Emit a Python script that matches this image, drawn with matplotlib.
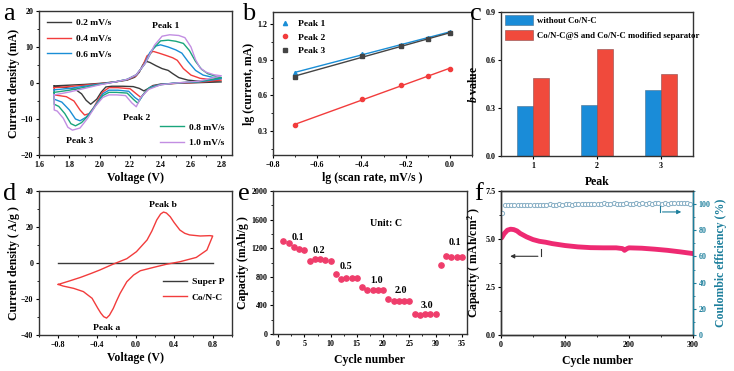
import matplotlib
matplotlib.use('Agg')
import matplotlib.pyplot as plt
import numpy as np
from matplotlib.ticker import AutoMinorLocator, MultipleLocator

plt.rcParams['font.family'] = ['Liberation Serif', 'DejaVu Serif']
plt.rcParams['font.weight'] = 'bold'
plt.rcParams['axes.labelweight'] = 'bold'
plt.rcParams['mathtext.fontset'] = 'custom'
plt.rcParams['mathtext.rm'] = 'Liberation Serif:bold'
plt.rcParams['mathtext.bf'] = 'Liberation Serif:bold'
plt.rcParams['mathtext.it'] = 'Liberation Serif:italic:bold'
plt.rcParams['axes.linewidth'] = 1.0
plt.rcParams['axes.edgecolor'] = '#333333'
plt.rcParams['xtick.labelsize'] = 5.8
plt.rcParams['ytick.labelsize'] = 5.8
plt.rcParams['xtick.major.size'] = 2.5
plt.rcParams['ytick.major.size'] = 2.5
plt.rcParams['xtick.minor.size'] = 1.5
plt.rcParams['ytick.minor.size'] = 1.5
plt.rcParams['xtick.major.pad'] = 1.8
plt.rcParams['ytick.major.pad'] = 1.5

# ---- panel a: CV curves at different scan rates (anodic then cathodic sweep)
rates = ['0.2 mV/s', '0.4 mV/s', '0.6 mV/s', '0.8 mV/s', '1.0 mV/s']
cv_colors = ['#3a3a3a', '#f23c3c', '#1a8ed6', '#1aa57c', '#c28ee2']
cv_anodic_v = [
    [1.70, 1.80, 1.90, 2.00, 2.10, 2.18, 2.23, 2.26, 2.28, 2.30, 2.33, 2.37, 2.41, 2.45, 2.48, 2.52, 2.58, 2.65, 2.80],
    [1.70, 1.80, 1.90, 2.00, 2.10, 2.18, 2.24, 2.28, 2.31, 2.35, 2.39, 2.44, 2.48, 2.51, 2.55, 2.60, 2.66, 2.72, 2.80],
    [1.70, 1.80, 1.90, 2.00, 2.10, 2.18, 2.24, 2.29, 2.33, 2.37, 2.40, 2.45, 2.50, 2.54, 2.58, 2.63, 2.68, 2.74, 2.80],
    [1.70, 1.80, 1.90, 2.00, 2.10, 2.18, 2.24, 2.30, 2.35, 2.40, 2.45, 2.50, 2.55, 2.59, 2.63, 2.67, 2.71, 2.76, 2.80],
    [1.70, 1.80, 1.90, 2.00, 2.10, 2.18, 2.24, 2.30, 2.36, 2.41, 2.46, 2.52, 2.56, 2.60, 2.63, 2.66, 2.70, 2.75, 2.80],
]
cv_anodic_i = [
    [-0.8, -0.6, -0.4, -0.1, 0.3, 0.8, 1.6, 3.0, 4.8, 6.1, 5.7, 4.8, 4.0, 3.5, 2.6, 1.5, 0.8, 0.5, 0.3],
    [-1.3, -1.0, -0.6, -0.2, 0.3, 0.9, 2.0, 4.5, 7.5, 8.8, 8.3, 7.6, 7.0, 6.3, 4.0, 2.2, 1.3, 1.0, 0.8],
    [-1.9, -1.5, -0.9, -0.3, 0.3, 1.0, 2.2, 5.0, 8.5, 10.3, 10.6, 10.0, 9.2, 8.3, 6.0, 3.5, 2.2, 1.6, 1.2],
    [-2.6, -2.0, -1.2, -0.4, 0.3, 1.0, 2.3, 5.5, 9.5, 11.7, 11.9, 11.6, 11.0, 9.0, 6.0, 3.8, 2.6, 1.9, 1.5],
    [-3.3, -2.5, -1.5, -0.5, 0.3, 1.0, 2.3, 5.5, 10.5, 13.0, 13.4, 13.2, 12.6, 10.0, 6.5, 4.2, 3.0, 2.3, 2.0],
]
cv_cathodic_v = [
    [2.80, 2.65, 2.50, 2.40, 2.35, 2.32, 2.29, 2.26, 2.22, 2.15, 2.08, 2.04, 2.01, 1.98, 1.94, 1.91, 1.88, 1.84, 1.78, 1.70, 1.70],
    [2.80, 2.65, 2.50, 2.40, 2.34, 2.30, 2.27, 2.24, 2.20, 2.12, 2.06, 2.02, 1.99, 1.96, 1.93, 1.90, 1.87, 1.83, 1.78, 1.70, 1.70],
    [2.80, 2.65, 2.50, 2.40, 2.33, 2.29, 2.26, 2.23, 2.19, 2.12, 2.06, 2.02, 1.99, 1.95, 1.91, 1.87, 1.84, 1.80, 1.75, 1.70, 1.70],
    [2.80, 2.65, 2.50, 2.40, 2.32, 2.28, 2.25, 2.22, 2.18, 2.11, 2.06, 2.02, 1.98, 1.93, 1.88, 1.84, 1.81, 1.77, 1.73, 1.70, 1.70],
    [2.80, 2.65, 2.50, 2.40, 2.32, 2.27, 2.24, 2.21, 2.17, 2.11, 2.06, 2.02, 1.97, 1.92, 1.87, 1.82, 1.79, 1.76, 1.72, 1.70, 1.70],
]
cv_cathodic_i = [
    [0.3, 0.1, -0.1, -0.3, -0.7, -1.5, -2.2, -1.5, -1.0, -0.9, -0.9, -1.1, -2.5, -4.5, -5.9, -4.8, -3.0, -1.8, -1.3, -1.0, -0.8],
    [0.8, 0.2, -0.1, -0.4, -1.0, -2.5, -4.0, -3.0, -1.6, -1.3, -1.3, -2.5, -4.5, -6.8, -8.5, -8.9, -7.5, -5.0, -3.8, -3.3, -1.3],
    [1.2, 0.3, 0.0, -0.4, -1.2, -3.0, -4.9, -4.0, -2.3, -2.0, -2.0, -3.0, -5.0, -7.5, -9.5, -10.5, -10.0, -7.5, -5.3, -4.5, -1.9],
    [1.5, 0.4, 0.0, -0.5, -1.5, -3.5, -5.6, -4.5, -2.8, -2.6, -2.6, -3.5, -5.8, -8.8, -11.0, -11.9, -11.3, -8.5, -6.5, -5.9, -2.6],
    [2.0, 0.5, 0.0, -0.5, -1.8, -4.0, -6.6, -5.5, -3.5, -3.3, -3.3, -4.0, -6.5, -9.8, -12.5, -13.1, -12.3, -9.8, -7.8, -7.5, -3.3],
]

# ---- panel b: lg(current) vs lg(scan rate)
lg_rate = [-0.699, -0.398, -0.222, -0.097, 0.0]
lg_peak1 = [0.792, 0.945, 1.025, 1.085, 1.133]
lg_peak2 = [0.350, 0.572, 0.687, 0.763, 0.819]
lg_peak3 = [0.757, 0.930, 1.015, 1.072, 1.122]

# ---- panel c: b values
peaks = ['1', '2', '3']
b_without = [0.315, 0.320, 0.415]
b_with = [0.490, 0.670, 0.515]

# ---- panel d: CV of Super P and Co/N-C
cn_v = [-0.80, -0.68, -0.57, -0.46, -0.37, -0.23, -0.09, 0.01, 0.12, 0.17, 0.22, 0.26, 0.29, 0.32,
        0.36, 0.40, 0.46, 0.51, 0.56, 0.67, 0.77, 0.80,
        0.74, 0.63, 0.46, 0.32, 0.19, 0.05, -0.02, -0.09, -0.16, -0.20, -0.23, -0.27, -0.30, -0.33,
        -0.36, -0.39, -0.45, -0.54, -0.64, -0.75, -0.80]
cn_i = [-11.9, -9.9, -8.0, -5.8, -3.9, -0.6, 2.4, 6.3, 12.8, 17.8, 23.9, 27.2, 28.3, 27.8,
        25.7, 22.5, 18.3, 16.5, 15.6, 15.0, 15.2, 15.0,
        7.2, 3.1, 0.7, -0.7, -2.4, -4.3, -6.7, -10.4, -16.9, -21.5, -25.2, -29.0, -30.6, -29.8,
        -27.8, -25.2, -19.6, -15.9, -14.1, -12.8, -11.9]
sp_v = [-0.8, 0.8]
sp_i = [0.0, 0.0]

# ---- panel e: rate capability
cycles_e = list(range(1, 36))
cap_e = [1300, 1268, 1221, 1189, 1175, 1026, 1049, 1049, 1040, 1021,
         835, 774, 788, 783, 779, 653, 615, 611, 611, 611,
         494, 466, 466, 466, 466, 284, 270, 275, 275, 275,
         970, 1086, 1077, 1077, 1072]
rate_labels = ['0.1', '0.2', '0.5', '1.0', '2.0', '3.0', '0.1']
rate_label_x = [3.7, 7.8, 12.9, 18.7, 23.4, 28.3, 33.7]
rate_label_y = [1352, 1165, 951, 755, 615, 392, 1277]

# ---- panel f: cycling
cycles_f = [1, 5, 10, 15, 20, 25, 30, 40, 50, 60, 70, 80, 90, 100, 120, 140, 160, 180, 190,
            193, 197, 200, 220, 240, 260, 280, 300]
cap_f = [5.06, 5.28, 5.46, 5.51, 5.49, 5.42, 5.29, 5.11, 4.97, 4.88, 4.83, 4.76, 4.71, 4.66,
         4.59, 4.55, 4.54, 4.54, 4.50, 4.41, 4.50, 4.54, 4.52, 4.47, 4.41, 4.33, 4.24]
cycles_ce = list(range(1, 301, 5))
ce = [93.0, 99.2, 99.3, 99.1, 99.3, 99.2, 99.4, 99.3, 99.5, 99.4, 99.6, 99.4, 99.5, 99.6, 99.5,
      99.7, 99.6, 99.5, 99.7, 99.6, 99.8, 99.7, 99.6, 99.8, 99.9, 99.7, 99.8, 99.9, 99.8, 100.0,
      99.9, 100.1, 100.5, 99.9, 100.3, 100.6, 100.0, 100.4, 100.2, 100.7, 100.1, 100.3, 100.5, 100.2,
      100.6, 100.4, 100.8, 100.2, 100.5, 100.9, 100.3, 100.6, 100.4, 100.7, 100.5, 100.8, 100.6,
      100.9, 100.7, 100.4]

W, H = 734, 371
fig = plt.figure(figsize=(W / 100, H / 100), dpi=100)


def box(l, t, r, b):
    return [l / W, 1 - b / H, (r - l) / W, (b - t) / H]


def letter(x, y, s):
    fig.text(x / W, 1 - y / H, s, fontsize=19, fontweight='normal', ha='left', va='baseline')


lab_kw = dict(fontsize=8.5, fontweight='bold')
leg_kw = dict(frameon=False, prop={'size': 6.8, 'weight': 'bold'}, handlelength=2.6,
              borderaxespad=0.4, labelspacing=0.75, handletextpad=0.5)

# a
ax = fig.add_axes(box(39, 11, 232, 155))
lines = []
for k in range(5):
    v = cv_anodic_v[k] + cv_cathodic_v[k]
    i = cv_anodic_i[k] + cv_cathodic_i[k]
    ln, = ax.plot(v, i, color=cv_colors[k], lw=1.0, label=rates[k])
    lines.append(ln)
ax.set_xlim(1.6, 2.87)
ax.set_ylim(-20, 20)
ax.set_xticks([1.6, 1.8, 2.0, 2.2, 2.4, 2.6, 2.8])
ax.set_yticks([-20, -10, 0, 10, 20])
ax.xaxis.set_minor_locator(AutoMinorLocator(2))
ax.yaxis.set_minor_locator(AutoMinorLocator(2))
ax.set_xlabel('Voltage (V)', labelpad=2, **lab_kw)
ax.set_ylabel('Current density (mA)', labelpad=1, **lab_kw)
leg1 = ax.legend(lines[:3], rates[:3], loc='upper left', **leg_kw)
ax.add_artist(leg1)
ax.legend(lines[3:], rates[3:], loc='lower right', **leg_kw)
ax.text(2.43, 15.2, 'Peak 1', fontsize=6.8, ha='center')
ax.text(2.24, -10.3, 'Peak 2', fontsize=6.8, ha='center')
ax.text(1.87, -16.8, 'Peak 3', fontsize=6.8, ha='center')
letter(3, 20, 'a')

# b
ax = fig.add_axes(box(273, 12, 472, 155))
for ys, c, m, name in [(lg_peak1, '#1a8ed6', '^', 'Peak 1'),
                       (lg_peak2, '#f23c3c', 'o', 'Peak 2'),
                       (lg_peak3, '#444444', 's', 'Peak 3')]:
    p = np.polyfit(lg_rate, ys, 1)
    xx = np.array([lg_rate[0], lg_rate[-1]])
    ax.plot(xx, np.polyval(p, xx), color=c, lw=1.0)
    ax.plot(lg_rate, ys, m, color=c, ms=3, label=name, ls='none')
ax.set_xlim(-0.8, 0.1)
ax.set_ylim(0.1, 1.3)
ax.set_xticks([-0.8, -0.6, -0.4, -0.2, 0.0])
ax.set_yticks([0.3, 0.6, 0.9, 1.2])
ax.xaxis.set_minor_locator(AutoMinorLocator(2))
ax.yaxis.set_minor_locator(AutoMinorLocator(2))
ax.set_xlabel('lg (scan rate, mV/s )', labelpad=2, **lab_kw)
ax.set_ylabel('lg (current, mA)', labelpad=2, **lab_kw)
ax.legend(loc='upper left', frameon=False, prop={'size': 6.8, 'weight': 'bold'},
          handlelength=1.0, borderaxespad=0.4, labelspacing=0.5)
letter(242, 20, 'b')

# c
ax = fig.add_axes(box(501, 12, 693, 156))
xpos = np.arange(1, len(peaks) + 1)
bw = 0.25
ax.bar(xpos - bw / 2, b_without, bw, color='#1a8cd8', edgecolor='#4a6e8a', lw=0.4, label='without Co/N-C')
ax.bar(xpos + bw / 2, b_with, bw, color='#f04a3c', edgecolor='#8a4a4a', lw=0.4,
       label='Co/N-C@S and Co/N-C modified separator')
ax.set_xlim(0.5, 3.5)
ax.set_ylim(0, 0.9)
ax.set_xticks(xpos)
ax.set_xticklabels(peaks)
ax.set_yticks([0.0, 0.3, 0.6, 0.9])
ax.set_xlabel('Peak', labelpad=4, **lab_kw)
ax.set_ylabel('$\\mathit{b}$ value', labelpad=4, **lab_kw)
ax.legend(loc='upper left', frameon=False, prop={'size': 6.3, 'weight': 'bold'},
          handlelength=3.2, handleheight=1.3, borderaxespad=0.2, labelspacing=0.6,
          borderpad=0.2, handletextpad=0.5)
letter(470, 20, 'c')

# d
ax = fig.add_axes(box(39, 191, 232, 335))
ax.plot(sp_v, sp_i, color='#3a3a3a', lw=1.0, label='Super P')
ax.plot(cn_v, cn_i, color='#f23c3c', lw=1.0, label='Co/N-C')
ax.set_xlim(-1.0, 1.0)
ax.set_ylim(-40, 40)
ax.set_xticks([-0.8, -0.4, 0.0, 0.4, 0.8])
ax.set_yticks([-40, -20, 0, 20, 40])
ax.xaxis.set_minor_locator(AutoMinorLocator(2))
ax.yaxis.set_minor_locator(AutoMinorLocator(2))
ax.set_xlabel('Voltage (V)', labelpad=2, **lab_kw)
ax.set_ylabel('Current density ( A/g )', labelpad=1, **lab_kw)
ax.legend(loc='lower right', bbox_to_anchor=(1.0, 0.18), **leg_kw)
ax.text(0.28, 31, 'Peak b', fontsize=6.8, ha='center')
ax.text(-0.3, -37, 'Peak a', fontsize=6.8, ha='center')
letter(3, 200, 'd')

# e
ax = fig.add_axes(box(273, 191, 467, 334))
ax.plot(cycles_e, cap_e, 'o', color='#ef3d6b', ms=3.8)
ax.set_xlim(-1, 36)
ax.set_ylim(0, 2000)
ax.set_xticks(range(0, 36, 5))
ax.set_yticks(range(0, 2001, 400))
ax.xaxis.set_minor_locator(MultipleLocator(2.5))
ax.yaxis.set_minor_locator(AutoMinorLocator(2))
for s, x, y in zip(rate_labels, rate_label_x, rate_label_y):
    ax.text(x, y, s, fontsize=7.2, ha='center', va='center')
ax.text(20.6, 1540, 'Unit: C', fontsize=7.2, ha='center', va='center')
ax.set_xlabel('Cycle number', labelpad=4, **lab_kw)
ax.set_ylabel('Capacity (mAh/g )', labelpad=2, **lab_kw)
letter(238, 200, 'e')

# f
teal = '#1d7f9c'
ax = fig.add_axes(box(501, 191, 693, 335))
ax.plot(cycles_f, cap_f, '-', color='#ee2a72', lw=3.5, solid_capstyle='round')
ax.set_xlim(0, 300)
ax.set_ylim(0, 7.5)
ax.set_xticks([0, 100, 200, 300])
ax.set_yticks([0.0, 2.5, 5.0, 7.5])
ax.xaxis.set_minor_locator(AutoMinorLocator(2))
ax.yaxis.set_minor_locator(AutoMinorLocator(2))
ax.set_xlabel('Cycle number', labelpad=4, **lab_kw)
ax.set_ylabel('Capacity ( mAh/cm$^{2}$ )', labelpad=2, **lab_kw)
ax.annotate('', xy=(10, 4.1), xytext=(62, 4.1),
            arrowprops=dict(arrowstyle='-|>', color='#333333', lw=0.8, mutation_scale=6))
ax.plot([62, 62], [4.1, 4.5], color='#333333', lw=0.8)
ax2 = ax.twinx()
ax2.plot(cycles_ce, ce, 'o', mfc='white', mec='#86aec4', ms=3, mew=0.7)
ax2.set_ylim(0, 110)
ax2.set_yticks([0, 20, 40, 60, 80, 100])
ax2.yaxis.set_minor_locator(AutoMinorLocator(2))
ax2.tick_params(axis='y', which='both', colors=teal, labelcolor=teal)
ax2.spines['right'].set_color(teal)
ax2.set_ylabel('Coulombic efficiency (%)', color=teal, labelpad=3, **lab_kw)
ax2.annotate('', xy=(286, 94), xytext=(248, 94),
             arrowprops=dict(arrowstyle='-|>', color=teal, lw=0.8, mutation_scale=6))
ax2.plot([248, 248], [98.5, 94], color=teal, lw=0.8)
letter(474, 200, 'f')

fig.savefig('out.png', dpi=100)
